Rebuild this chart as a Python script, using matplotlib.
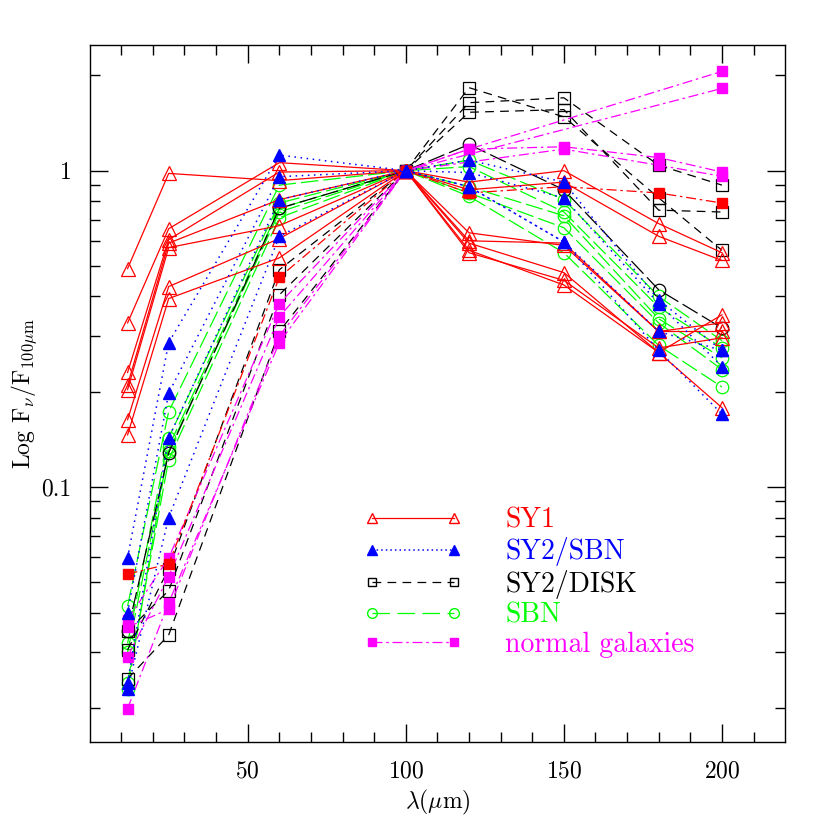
import matplotlib
matplotlib.use("Agg")
import matplotlib.pyplot as plt
from matplotlib.ticker import FixedLocator, FixedFormatter, NullFormatter

plt.rcParams["font.family"] = ["cmr10", "DejaVu Serif"]
plt.rcParams["mathtext.fontset"] = "cm"
plt.rcParams["axes.unicode_minus"] = False
plt.rcParams["axes.formatter.use_mathtext"] = True

# wavelengths (micron)
wave = [12, 25, 60, 100, 120, 150, 180, 200]

# F_nu / F_100, one row per galaxy
sy1 = [
    [0.49, 0.98, 0.93, 1, 0.92, 1.00, 0.68, 0.55],
    [0.33, 0.655, 1.06, 1, 0.87, 0.92, 0.62, 0.52],
    [0.23, 0.605, 0.99, 1, 0.636, 0.58, 0.31, 0.31],
    [0.21, 0.59, 0.81, 1, 0.59, 0.476, 0.266, 0.35],
    [0.203, 0.571, 0.67, 1, 0.55, 0.45, 0.275, 0.296],
    [0.163, 0.43, 0.61, 1, 0.56, 0.435, 0.266, 0.178],
    [0.146, 0.394, 0.53, 1, 0.60, 0.59, 0.31, 0.33],
]
sy1_sq = [0.053, 0.057, 0.46, 1, 0.85, 0.89, 0.85, 0.79]

sy2_sbn = [
    [0.0596, 0.286, 1.12, 1, 1.08, 0.92, 0.39, 0.27],
    [0.040, 0.198, 0.957, 1, 0.986, 0.82, 0.38, 0.24],
    [0.024, 0.143, 0.81, 1, 0.89, 0.595, 0.31, 0.27],
    [0.0229, 0.080, 0.62, 1, 0.89, 0.595, 0.27, 0.17],
]

sy2_disk = [
    [0.0305, 0.055, 0.486, 1, 1.83, 1.48, 0.82, 0.56],
    [0.035, 0.047, 0.405, 1, 1.64, 1.70, 1.04, 0.90],
    [0.0247, 0.034, 0.31, 1, 1.53, 1.56, 0.75, 0.74],
]
sy2_disk_circ = [0.035, 0.128, 0.76, 1, 1.21, 0.87, 0.42, 0.318]

sbn = [
    [0.042, 0.173, 0.90, 1, 1.08, 0.81, 0.40, 0.29],
    [0.032, 0.143, 0.79, 1, 1.03, 0.74, 0.37, 0.275],
    [0.023, 0.134, 0.76, 1, 0.89, 0.72, 0.34, 0.256],
    [0.030, 0.130, 0.74, 1, 0.85, 0.66, 0.33, 0.235],
    [0.024, 0.122, 0.71, 1, 0.83, 0.55, 0.28, 0.207],
]

# normal galaxies: some have no 120/150/180 points
normal_wave = [
    [12, 25, 60, 100, 120, 150, 180, 200],
    [12, 25, 60, 100, 150, 180, 200],
    [12, 25, 60, 100, 120, 200],
    [12, 25, 60, 100, 200],
]
normal = [
    [0.038, 0.0596, 0.38, 1, 1.17, 1.19, 1.10, 0.99],
    [0.029, 0.052, 0.345, 1, 1.17, 1.04, 0.96],
    [0.0199, 0.043, 0.286, 1, 1.17, 2.06],
    [0.036, 0.041, 0.30, 1, 1.82],
]

labels = ["SY1", "SY2/SBN", "SY2/DISK", "SBN", "normal galaxies"]

RED, BLUE, BLACK, GREEN, MAG = "#ff0000", "#0000ff", "#000000", "#00ff00", "#ff00ff"
LW = 0.9

fig = plt.figure(figsize=(8.3, 8.3), dpi=100)
ax = fig.add_axes([0.108, 0.106, 0.838, 0.840])

for y in sbn:
    ax.plot(wave, y, color=GREEN, lw=LW, ls=(0, (14, 4)), marker="o", ms=9,
            mfc="none", mec=GREEN, mew=0.9)
ax.plot(wave, sy2_disk_circ, color=BLACK, lw=LW, ls=(0, (14, 4)), marker="o",
        ms=9, mfc="none", mec=BLACK, mew=0.9)
for y in sy2_disk:
    ax.plot(wave, y, color=BLACK, lw=LW, ls=(0, (7, 5)), marker="s", ms=8,
            mfc="none", mec=BLACK, mew=0.9)
for w, y in zip(normal_wave, normal):
    ax.plot(w, y, color=MAG, lw=LW, ls=(0, (8, 3, 2, 3)), marker="s", ms=7,
            mfc=MAG, mec=MAG)
ax.plot(wave, sy1_sq, color=RED, lw=LW, ls=(0, (8, 3, 2, 3)), marker="s", ms=7,
        mfc=RED, mec=RED)
for y in sy1:
    ax.plot(wave, y, color=RED, lw=LW, ls="-", marker="^", ms=10,
            mfc="none", mec=RED, mew=0.9)
for y in sy2_sbn:
    ax.plot(wave, y, color=BLUE, lw=1.1, ls=(0, (1, 3)), marker="^", ms=9,
            mfc=BLUE, mec=BLUE)

ax.set_xlim(0, 220)
ax.set_yscale("log")
ax.set_ylim(0.0156, 2.5)

ax.xaxis.set_major_locator(FixedLocator([50, 100, 150, 200]))
ax.xaxis.set_minor_locator(FixedLocator(list(range(10, 220, 10))))
ax.yaxis.set_major_locator(FixedLocator([0.1, 1]))
ax.yaxis.set_major_formatter(FixedFormatter(["0.1", "1"]))
minor_y = [m * d for d in (0.01, 0.1, 1) for m in range(2, 10)]
ax.yaxis.set_minor_locator(FixedLocator(minor_y))
ax.yaxis.set_minor_formatter(NullFormatter())

ax.tick_params(which="both", direction="in", top=True, right=True, width=1,
               labelsize=17)
ax.tick_params(which="major", length=13, pad=13)
ax.tick_params(which="minor", length=7)
for s in ax.spines.values():
    s.set_linewidth(1)

ax.set_xlabel(r"$\lambda(\mu$m$)$", fontsize=17, labelpad=4)
ax.set_ylabel(r"Log F$_\nu$/F$_{100\mu{\rm m}}$", fontsize=17, labelpad=2)

# legend handles
h1, = ax.plot([], [], color=RED, lw=LW, ls="-", marker="^", ms=7, mfc="none", mec=RED)
h2, = ax.plot([], [], color=BLUE, lw=1.1, ls=(0, (1, 2)), marker="^", ms=7, mfc=BLUE, mec=BLUE)
h3, = ax.plot([], [], color=BLACK, lw=LW, ls=(0, (7, 5)), marker="s", ms=6, mfc="none", mec=BLACK)
h4, = ax.plot([], [], color=GREEN, lw=LW, ls=(0, (14, 6)), marker="o", ms=7, mfc="none", mec=GREEN)
h5, = ax.plot([], [], color=MAG, lw=LW, ls=(0, (8, 3, 2, 3)), marker="s", ms=6, mfc=MAG, mec=MAG)
leg = ax.legend([h1, h2, h3, h4, h5], labels, loc="upper left",
                bbox_to_anchor=(0.358, 0.372), frameon=False, fontsize=20,
                numpoints=2, handlelength=3.55, handletextpad=1.55,
                labelspacing=0.12, labelcolor="linecolor")

fig.savefig("out.png", dpi=100)
